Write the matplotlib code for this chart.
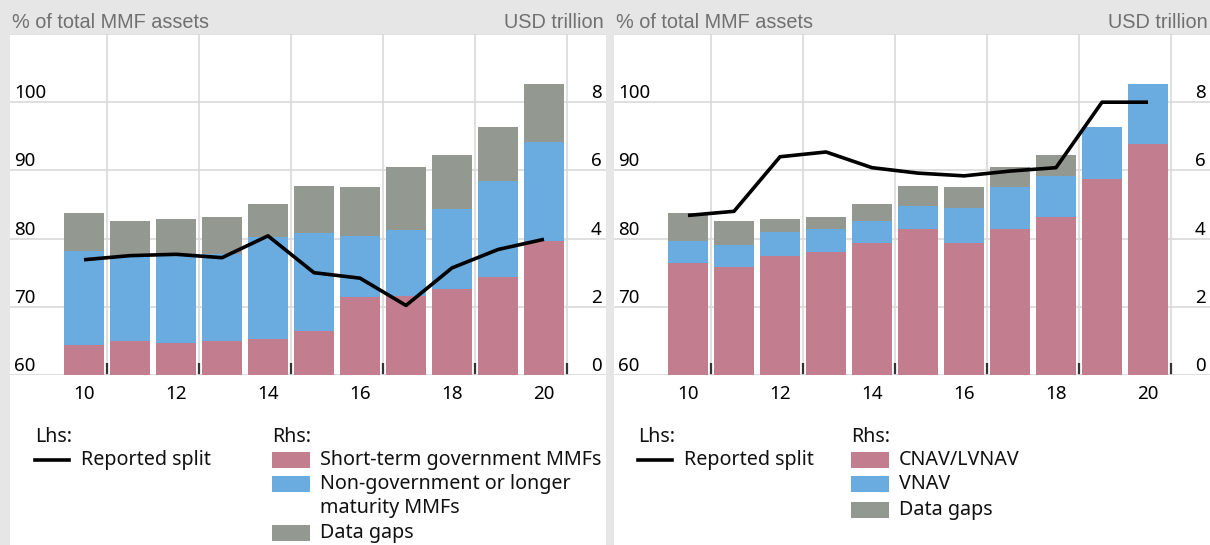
import matplotlib.pyplot as plt
import numpy as np
from matplotlib.patches import Rectangle
from matplotlib.lines import Line2D

# ---- data -------------------------------------------------------------
years = [10, 11, 12, 13, 14, 15, 16, 17, 18, 19, 20]

# left panel: USD trillion (rhs)
short_gov = [0.88, 1.00, 0.94, 1.00, 1.06, 1.28, 2.30, 2.32, 2.52, 2.88, 3.92]
non_gov = [2.76, 2.50, 2.58, 2.56, 2.98, 2.88, 1.78, 1.94, 2.36, 2.82, 2.90]
gaps_left = [1.12, 1.02, 1.06, 1.06, 0.98, 1.38, 1.44, 1.84, 1.58, 1.58, 1.72]
split_left = [76.9, 77.5, 77.7, 77.2, 80.4, 75.0, 74.2, 70.2, 75.7, 78.4, 79.9]  # % (lhs)

# right panel: USD trillion (rhs)
cnav = [3.28, 3.18, 3.50, 3.62, 3.88, 4.28, 3.86, 4.28, 4.64, 5.76, 6.78]
vnav = [0.66, 0.62, 0.70, 0.66, 0.64, 0.68, 1.04, 1.22, 1.20, 1.52, 1.76]
gaps_right = [0.82, 0.72, 0.38, 0.36, 0.50, 0.58, 0.62, 0.60, 0.62, 0.0, 0.0]
split_right = [83.4, 84.0, 92.0, 92.7, 90.4, 89.6, 89.2, 89.9, 90.4, 100.0, 100.0]  # % (lhs)

x_labels = [10, 12, 14, 16, 18, 20]
lhs_ticks = [60, 70, 80, 90, 100]
rhs_ticks = [0, 2, 4, 6, 8]

PINK = '#c27e8e'
BLUE = '#6aace0'
GREY = '#939891'
BG = '#e6e6e6'
GRID = '#d9d9d9'

W, H = 1210, 545
TICK_FONT = 'Noto Sans'
HEAD_FONT = 'Liberation Sans'


def fx(x):
    return x / W


def fy(y):
    return 1 - y / H


fig = plt.figure(figsize=(W / 100, H / 100), dpi=100, facecolor=BG)


def draw_panel(left_px, series, colors, split):
    # white card behind the panel
    fig.add_artist(Rectangle((fx(left_px), 0), fx(596), fy(34), transform=fig.transFigure,
                             facecolor='white', edgecolor='none', zorder=0))

    ax = fig.add_axes([fx(left_px), fy(375), fx(596), fy(34) - fy(375)])
    ax.set_facecolor('white')
    x = np.array(years)
    bottom = np.zeros(len(years))
    for vals, col in zip(series, colors):
        ax.bar(x, vals, width=0.85, bottom=bottom, color=col, linewidth=0, zorder=2)
        bottom += np.array(vals)

    x0 = years[0] - 74 / 46
    ax.set_xlim(x0, x0 + 596 / 46)
    ax.set_ylim(0, 10)
    ax.set_axisbelow(True)

    ax.set_xticks(x_labels)
    ax.set_xticks(np.arange(10.5, 21, 2), minor=True)
    ax.tick_params(axis='x', which='major', length=0, pad=7, labelsize=13.5)
    ax.tick_params(axis='x', which='minor', direction='in', length=9, width=1.6,
                   color='#333333')
    for lab in ax.get_xticklabels():
        lab.set_fontfamily(TICK_FONT)
    ax.grid(which='minor', axis='x', color=GRID, linewidth=1.2)
    for s in ax.spines.values():
        s.set_visible(False)

    # line on a twin axis (lhs, %), drawn above the bars
    ax2 = ax.twinx()
    ax2.plot(years, split, color='black', linewidth=2.6, solid_capstyle='butt', zorder=5)
    ax2.set_ylim(60, 110)
    for s in ax2.spines.values():
        s.set_visible(False)

    # rhs labels belong to the bar axis, lhs labels to the line axis
    ax.yaxis.tick_right()
    ax.set_yticks(rhs_ticks + [10])
    ax.set_yticklabels([str(t) for t in rhs_ticks] + [''])
    ax.tick_params(axis='y', which='both', length=0, pad=-3, labelsize=13.5)
    for lab in ax.get_yticklabels():
        lab.set_ha('right')
        lab.set_va('bottom')
        lab.set_fontfamily(TICK_FONT)
    ax.grid(which='major', axis='y', color=GRID, linewidth=1.2)

    ax2.yaxis.tick_left()
    ax2.set_yticks(lhs_ticks)
    ax2.tick_params(axis='y', which='both', length=0, pad=-3, labelsize=13.5)
    for lab in ax2.get_yticklabels():
        lab.set_ha('left')
        lab.set_va('bottom')
        lab.set_fontfamily(TICK_FONT)

    # axis headers
    fig.text(fx(left_px + 2), fy(22), '% of total MMF assets', family=HEAD_FONT,
             fontsize=14.3, color='#707070', va='center', ha='left')
    fig.text(fx(left_px + 594), fy(22), 'USD trillion', family=HEAD_FONT,
             fontsize=14.3, color='#707070', va='center', ha='right')
    return ax


def legend(lhs_x, rhs_x, labels, colors, rows):
    kw = dict(family=TICK_FONT, fontsize=14.2, color='#111111', va='center', ha='left')
    fig.text(fx(lhs_x), fy(437), 'Lhs:', **kw)
    fig.add_artist(Line2D([fx(lhs_x), fx(lhs_x + 34)], [fy(460), fy(460)],
                          transform=fig.transFigure, color='black', linewidth=2.6))
    fig.text(fx(lhs_x + 46), fy(460), 'Reported split', **kw)
    fig.text(fx(rhs_x), fy(437), 'Rhs:', **kw)
    for lab, col, y in zip(labels, colors, rows):
        fig.add_artist(Rectangle((fx(rhs_x), fy(y + 8)), fx(38), fy(y - 8) - fy(y + 8),
                                 transform=fig.transFigure, facecolor=col, edgecolor='none'))
        lines = lab.split('\n')
        for i, ln in enumerate(lines):
            fig.text(fx(rhs_x + 48), fy(y + 23.5 * i), ln, **kw)


draw_panel(10, [short_gov, non_gov, gaps_left], [PINK, BLUE, GREY], split_left)
draw_panel(614, [cnav, vnav, gaps_right], [PINK, BLUE, GREY], split_right)

legend(35, 272, ['Short-term government MMFs', 'Non-government or longer\nmaturity MMFs', 'Data gaps'],
       [PINK, BLUE, GREY], [460, 484, 533])
legend(638, 851, ['CNAV/LVNAV', 'VNAV', 'Data gaps'], [PINK, BLUE, GREY], [460, 484, 510])

fig.savefig('out.png', dpi=100, facecolor=BG)
